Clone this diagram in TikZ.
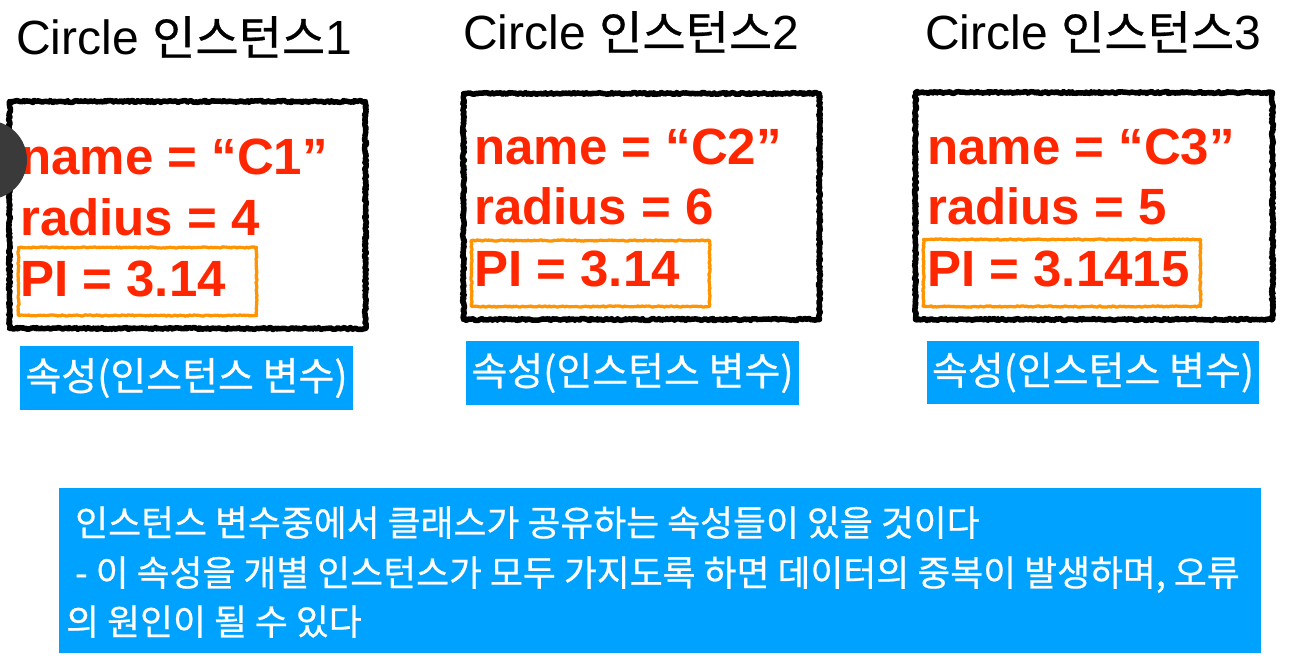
\documentclass[tikz,border=0pt]{standalone}
\usepackage{fontspec}
\setmainfont{Liberation Sans}
\newfontfamily\kr{Noto Sans CJK KR}[FakeBold=0.6]
\usetikzlibrary{decorations.pathmorphing}
\definecolor{kred}{HTML}{FF2600}
\definecolor{korange}{HTML}{FF9300}
\definecolor{kblue}{HTML}{00A2FF}
\definecolor{kdark}{HTML}{3A3A3A}
\tikzset{
  instbox/.style={draw=black, line width=5.5pt, line join=round, inner sep=0pt, outer sep=0pt,
    decorate, decoration={random steps, segment length=1.5pt, amplitude=1pt},
    postaction={draw=black, line width=1.2pt, decorate, decoration={random steps, segment length=1pt, amplitude=2pt}}},
  pibox/.style={draw=korange, line width=3.2pt, line join=round, inner sep=0pt, outer sep=0pt,
    decorate, decoration={random steps, segment length=1.5pt, amplitude=0.6pt},
    postaction={draw=korange, line width=0.8pt, decorate, decoration={random steps, segment length=1pt, amplitude=1.3pt}}},
  title/.style={anchor=base west, inner sep=0pt, font=\fontsize{48}{56}\selectfont},
  attr/.style={anchor=base west, inner sep=0pt, text=kred, font=\fontsize{51}{60}\selectfont\bfseries},
  tag/.style={fill=kblue, text=white, inner sep=0pt, minimum width=333pt, minimum height=64pt,
    font=\fontsize{39}{44}\selectfont\kr},
  note/.style={fill=kblue, inner sep=0pt, anchor=north west},
  notetext/.style={anchor=base west, inner sep=0pt, text=white, font=\fontsize{35.8}{40}\selectfont\kr}
}
\newcommand{\krtitle}[1]{{\fontsize{47}{56}\selectfont\kr #1}}
\begin{document}
\begin{tikzpicture}[x=1pt,y=-1pt]
\useasboundingbox (0,0) rectangle (1294,666);
\fill[white] (0,0) rectangle (1294,666);

% titles
\node[title] (t1) at (16,55) {Circle \krtitle{인스턴스}1};
\node[title] (t2) at (463,50) {Circle \krtitle{인스턴스}2};
\node[title] (t3) at (925,50) {Circle \krtitle{인스턴스}3};

% instance boxes
\node[instbox, minimum width=356pt, minimum height=227pt] (b1) at (187.5,215) {};
\node[instbox, minimum width=356pt, minimum height=226pt] (b2) at (641.5,206.5) {};
\node[instbox, minimum width=357pt, minimum height=227pt] (b3) at (1094,206) {};

% PI boxes
\node[pibox, minimum width=238pt, minimum height=68pt] (p1) at (137.5,281.5) {};
\node[pibox, minimum width=238pt, minimum height=66pt] (p2) at (590.5,273.5) {};
\node[pibox, minimum width=277pt, minimum height=67pt] (p3) at (1062,273) {};

% attributes
\node[attr] (n1) at (20,175) {name = “C1”};
\node[attr] (r1) at (20,235) {radius = 4};
\node[attr] (v1) at (20,296) {PI = 3.14};
\node[attr] (n2) at (474,165) {name = “C2”};
\node[attr] (r2) at (474,225) {radius = 6};
\node[attr] (v2) at (474,286) {PI = 3.14};
\node[attr] (n3) at (927,165) {name = “C3”};
\node[attr] (r3) at (927,225) {radius = 5};
\node[attr] (v3) at (927,286) {PI = 3.1415};

% tags
\node[tag] (g1) at (186.5,378) {속성(인스턴스 변수)};
\node[tag] (g2) at (632.5,373) {속성(인스턴스 변수)};
\node[tag, minimum width=332pt, minimum height=63pt] (g3) at (1093,372.5) {속성(인스턴스 변수)};

% dark circle at left edge
\fill[kdark] (-12.5,160) circle[radius=39.5pt];

% note
\node[note, minimum width=1202pt, minimum height=165pt] (nt) at (59,488) {};
\node[notetext] (l1) at (75,536) {인스턴스 변수중에서 클래스가 공유하는 속성들이 있을 것이다};
\node[notetext] (l2) at (75,586) {- 이 속성을 개별 인스턴스가 모두 가지도록 하면 데이터의 중복이 발생하며, 오류};
\node[notetext] (l3) at (66,635) {의 원인이 될 수 있다};
\end{tikzpicture}
\end{document}
